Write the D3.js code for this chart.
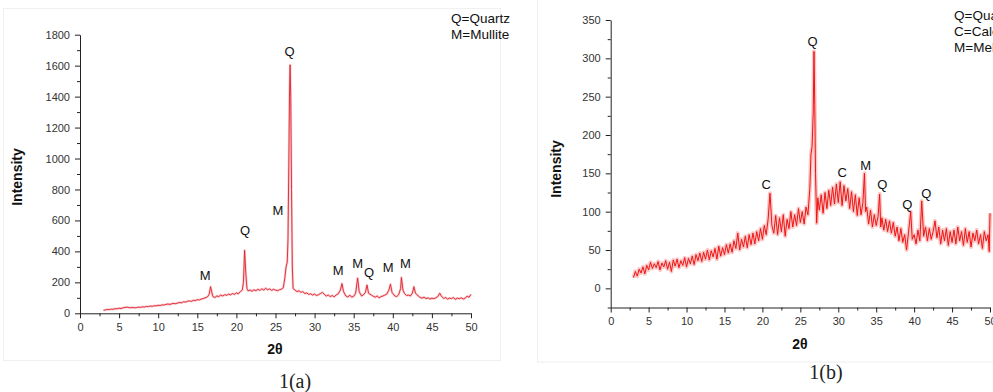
<!DOCTYPE html>
<html><head><meta charset="utf-8">
<script src="https://cdn.jsdelivr.net/npm/d3@7/dist/d3.min.js"></script>
<style>
html,body{margin:0;padding:0;background:#fff;}
svg{display:block;font-family:"Liberation Sans",Arial,sans-serif;}
</style></head>
<body>
<svg id="chart" width="993" height="392"></svg>
<script>
// ---------- DATA ----------
// Pattern 1(a): [2theta, intensity]
const patternA = [
[3.0,20],[3.25,22],[3.5,25],[3.75,24],[4.0,27],[4.25,26],[4.5,30],[4.75,29],[5.0,33],[5.25,31],[5.5,35],[5.75,38],
[6.0,40],[6.25,37],[6.5,36],[6.75,38],[7.0,35],[7.25,37],[7.5,40],[7.75,38],[8.0,42],[8.25,40],[8.5,44],[8.75,43],
[9.0,47],[9.25,45],[9.5,49],[9.75,48],[10.0,52],[10.25,50],[10.5,55],[10.75,53],[11.0,58],[11.25,60],[11.5,57],[11.75,62],
[12.0,64],[12.25,62],[12.5,67],[12.75,70],[13.0,68],[13.25,75],[13.5,72],[13.75,78],[14.0,80],[14.25,77],[14.5,84],[14.75,82],
[15.0,88],[15.25,86],[15.5,92],[15.75,95],[16.0,100],[16.25,104],[16.5,120],[16.7,172],[16.9,125],[17.0,108],[17.25,102],[17.5,112],
[17.75,108],[18.0,118],[18.25,112],[18.5,120],[18.75,116],[19.0,124],[19.25,119],[19.5,128],[19.75,122],[20.0,132],[20.25,126],[20.5,140],
[20.75,150],[20.9,200],[21.05,407],[21.2,260],[21.35,160],[21.5,145],[21.75,150],[22.0,142],[22.25,152],[22.5,146],[22.75,155],[23.0,148],
[23.25,158],[23.5,150],[23.75,162],[24.0,152],[24.25,158],[24.5,148],[24.75,155],[25.0,150],[25.25,146],[25.5,152],[25.75,156],[26.0,165],
[26.2,230],[26.35,300],[26.5,330],[26.6,480],[26.7,950],[26.8,1450],[26.87,1605],[26.95,1400],[27.05,800],[27.15,300],[27.25,160],[27.5,150],
[27.75,140],[28.0,146],[28.25,135],[28.5,140],[28.75,128],[29.0,132],[29.25,122],[29.5,126],[29.75,118],[30.0,124],[30.25,115],[30.5,120],
[30.75,128],[31.0,135],[31.25,122],[31.5,112],[31.75,118],[32.0,108],[32.25,115],[32.5,106],[32.75,118],[33.0,125],[33.3,150],[33.5,192],
[33.7,140],[34.0,112],[34.25,105],[34.5,118],[34.75,104],[35.0,110],[35.25,130],[35.5,228],[35.7,140],[36.0,112],[36.25,120],[36.5,135],
[36.7,183],[36.9,130],[37.25,118],[37.5,110],[37.75,104],[38.0,112],[38.25,100],[38.5,108],[38.75,112],[39.0,118],[39.25,125],[39.5,150],
[39.7,188],[39.9,135],[40.25,112],[40.5,108],[40.75,120],[41.0,160],[41.1,232],[41.3,150],[41.5,128],[41.75,115],[42.0,118],[42.25,112],
[42.5,130],[42.7,172],[42.9,130],[43.25,112],[43.5,102],[43.75,98],[44.0,104],[44.25,95],[44.5,100],[44.75,92],[45.0,98],[45.25,94],
[45.5,100],[45.75,108],[46.0,130],[46.2,112],[46.5,96],[46.75,102],[47.0,92],[47.25,98],[47.5,95],[47.75,102],[48.0,90],[48.25,98],
[48.5,94],[48.75,100],[49.0,92],[49.25,98],[49.5,110],[49.75,104],[50.0,122]
];
// Pattern 1(b): [2theta, intensity]
const patternB = [
[3.0,14],[3.25,22],[3.5,16],[3.75,25],[4.0,20],[4.25,28],[4.5,19],[4.75,30],[5.0,24],[5.25,34],[5.5,26],[5.75,32],
[6.0,27],[6.25,35],[6.5,24],[6.75,33],[7.0,28],[7.25,36],[7.5,25],[7.75,34],[8.0,22],[8.25,37],[8.5,29],[8.75,38],
[9.0,27],[9.25,36],[9.5,30],[9.75,40],[10.0,28],[10.25,39],[10.5,32],[10.75,42],[11.0,31],[11.25,44],[11.5,36],[11.75,46],
[12.0,35],[12.25,47],[12.5,38],[12.75,50],[13.0,37],[13.25,49],[13.5,41],[13.75,52],[14.0,38],[14.25,55],[14.5,42],[14.75,53],
[15.0,44],[15.25,57],[15.5,46],[15.75,58],[16.0,47],[16.25,62],[16.5,52],[16.75,72],[17.0,50],[17.25,64],[17.5,54],[17.75,68],
[18.0,53],[18.25,70],[18.5,57],[18.75,72],[19.0,58],[19.25,74],[19.5,62],[19.75,78],[20.0,64],[20.25,82],[20.5,70],[20.75,90],
[21.0,124],[21.25,82],[21.5,72],[21.75,95],[22.0,70],[22.25,92],[22.5,74],[22.75,96],[23.0,68],[23.25,90],[23.5,78],[23.75,100],
[24.0,80],[24.25,96],[24.5,82],[24.75,104],[25.0,86],[25.25,100],[25.5,84],[25.75,106],[26.0,96],[26.25,130],[26.4,175],[26.55,185],
[26.7,230],[26.8,309],[26.9,240],[27.0,150],[27.15,85],[27.3,118],[27.5,102],[27.75,122],[28.0,98],[28.25,125],[28.5,104],[28.75,128],
[29.0,108],[29.25,132],[29.5,110],[29.75,136],[30.0,112],[30.25,139],[30.5,108],[30.75,134],[31.0,114],[31.25,130],[31.5,104],[31.75,126],
[32.0,100],[32.25,122],[32.5,95],[32.75,118],[33.0,96],[33.25,112],[33.45,150],[33.6,100],[33.75,106],[34.0,84],[34.25,102],[34.5,80],
[34.75,96],[35.0,82],[35.25,94],[35.45,123],[35.6,80],[35.75,92],[36.0,76],[36.25,90],[36.5,74],[36.75,88],[37.0,72],[37.25,86],
[37.5,68],[37.75,80],[38.0,62],[38.25,78],[38.5,60],[38.75,70],[39.0,50],[39.25,72],[39.55,100],[39.75,64],[40.0,70],[40.25,58],
[40.5,76],[40.75,62],[41.0,114],[41.25,68],[41.5,80],[41.75,62],[42.0,78],[42.25,64],[42.5,74],[42.75,88],[43.0,66],[43.25,80],
[43.5,58],[43.75,76],[44.0,62],[44.25,78],[44.5,56],[44.75,74],[45.0,60],[45.25,76],[45.5,58],[45.75,80],[46.0,62],[46.25,74],
[46.5,56],[46.75,78],[47.0,60],[47.25,74],[47.5,54],[47.75,72],[48.0,62],[48.25,76],[48.5,58],[48.75,70],[49.0,52],[49.25,74],
[49.5,62],[49.75,70],[49.9,48],[50.0,98]
];
// Tick values
const xTicks = [0,5,10,15,20,25,30,35,40,45,50];
const yTicksA = [0,200,400,600,800,1000,1200,1400,1600,1800];
const yTicksB = [0,50,100,150,200,250,300,350];
// Peak labels: [2theta, intensity at label, phase letter]
const peaksA = [[26.8,1660,"Q"],[16.0,218,"M"],[21.1,505,"Q"],[25.3,638,"M"],[33.0,247,"M"],[35.5,290,"M"],[36.95,236,"Q"],[39.4,270,"M"],[41.6,290,"M"]];
const peaksB = [[26.6,316,"Q"],[20.5,130,"C"],[30.5,145,"C"],[33.6,155,"M"],[35.8,130,"Q"],[39.1,103,"Q"],[41.6,118,"Q"]];
const legendA = ["Q=Quartz","M=Mullite"];
const legendB = ["Q=Quartz","C=Calcite","M=Melilite"];
const captions = ["1(a)","1(b)"];

// ---------- DRAW ----------
const svg = d3.select("#chart");

// faint panel outlines
svg.append("rect").attr("x",3.5).attr("y",8.5).attr("width",497).attr("height",352)
  .attr("fill","none").attr("stroke","#f0f0f0");
svg.append("rect").attr("x",537.5).attr("y",-2).attr("width",470).attr("height",364)
  .attr("fill","none").attr("stroke","#eeeeee");

function panel(cfg){
  const g = svg.append("g");
  const x = d3.scaleLinear().domain([0,50]).range([cfg.x0,cfg.x1]);
  const y = d3.scaleLinear().domain(cfg.yDomain).range([cfg.yBottom,cfg.yTop]);
  // minor ticks
  const xMinor = d3.range(0,50.01,2.5).filter(v=>!xTicks.includes(v));
  g.append("g").attr("transform",`translate(0,${cfg.yBottom})`)
    .call(d3.axisBottom(x).tickValues(xMinor).tickSize(3).tickFormat(""))
    .call(a=>a.select(".domain").remove());
  g.append("g").attr("transform",`translate(${cfg.x0},0)`)
    .call(d3.axisLeft(y).tickValues(cfg.yMinor).tickSize(3).tickFormat(""))
    .call(a=>a.select(".domain").remove());
  // major axes
  const ax = g.append("g").attr("transform",`translate(0,${cfg.yBottom})`)
    .call(d3.axisBottom(x).tickValues(xTicks).tickSize(5).tickSizeOuter(0).tickPadding(5).tickFormat(d3.format("d")));
  const ay = g.append("g").attr("transform",`translate(${cfg.x0},0)`)
    .call(d3.axisLeft(y).tickValues(cfg.yTicks).tickSize(5).tickSizeOuter(0).tickPadding(5).tickFormat(d3.format("d")));
  [ax,ay].forEach(a=>{
    a.attr("font-family",null).attr("font-size",null);
    a.selectAll("text").style("font-size","11px").attr("fill","#333")
      .style("font-family","'Liberation Sans', Arial, sans-serif");
    a.selectAll("line,path").attr("stroke","#222").attr("stroke-width",1);
  });
  g.selectAll(".tick line").attr("stroke","#222");

  // data line
  const line = d3.line().x(d=>x(d[0])).y(d=>y(d[1]));
  g.append("path").datum(cfg.data).attr("d",line).attr("fill","none")
    .attr("stroke",cfg.halo).attr("stroke-width",cfg.haloW).attr("stroke-linejoin","round");
  g.append("path").datum(cfg.data).attr("d",line).attr("fill","none")
    .attr("stroke",cfg.color).attr("stroke-width",cfg.lineW).attr("stroke-linejoin","round");

  // peak labels
  g.selectAll("text.pk").data(cfg.peaks).enter().append("text").attr("class","pk")
    .attr("x",d=>x(d[0])).attr("y",d=>y(d[1])).attr("text-anchor","middle")
    .style("font-size","13px").attr("fill","#111").text(d=>d[2]);

  // axis titles
  g.append("text").attr("x",cfg.xTitle[0]).attr("y",cfg.xTitle[1]).attr("text-anchor","middle")
    .style("font-size","14px").style("font-weight","bold").attr("fill","#111").text("2θ");
  g.append("text").attr("transform",`translate(${cfg.yTitle[0]},${cfg.yTitle[1]}) rotate(-90)`)
    .attr("text-anchor","middle").style("font-size","14px").style("font-weight","bold").attr("fill","#111").text("Intensity");

  // legend text
  g.selectAll("text.lg").data(cfg.legend).enter().append("text").attr("class","lg")
    .attr("x",cfg.legendPos[0]).attr("y",(d,i)=>cfg.legendPos[1]+i*cfg.legendStep)
    .style("font-size","13.5px").attr("fill","#111").text(d=>d);

  // caption
  g.append("text").attr("x",cfg.caption[0]).attr("y",cfg.caption[1]).attr("text-anchor","middle")
    .style("font-family","'Liberation Serif','DejaVu Serif',serif").style("font-size","20px")
    .attr("fill","#222").text(cfg.captionText);
}

panel({
  data: patternA, x0:80, x1:471, yDomain:[0,1800], yBottom:313.3, yTop:34.7,
  yTicks:yTicksA, yMinor:d3.range(100,1800,200),
  color:"#e0222c", halo:"rgba(240,140,150,0.45)", haloW:2.4, lineW:0.9,
  peaks:peaksA, xTitle:[275,354], yTitle:[22,177], legend:legendA, legendPos:[451,23], legendStep:15.5,
  caption:[295,388], captionText:captions[0]
});
panel({
  data: patternB, x0:610.7, x1:990, yDomain:[-25,350], yBottom:307.5, yTop:20,
  yTicks:yTicksB, yMinor:[-25].concat(d3.range(25,350,50)),
  color:"#f01414", halo:"rgba(245,130,130,0.45)", haloW:4, lineW:1,
  peaks:peaksB, xTitle:[800,349], yTitle:[561,169], legend:legendB, legendPos:[954,20], legendStep:16,
  caption:[826,379], captionText:captions[1]
});
</script>
</body></html>
